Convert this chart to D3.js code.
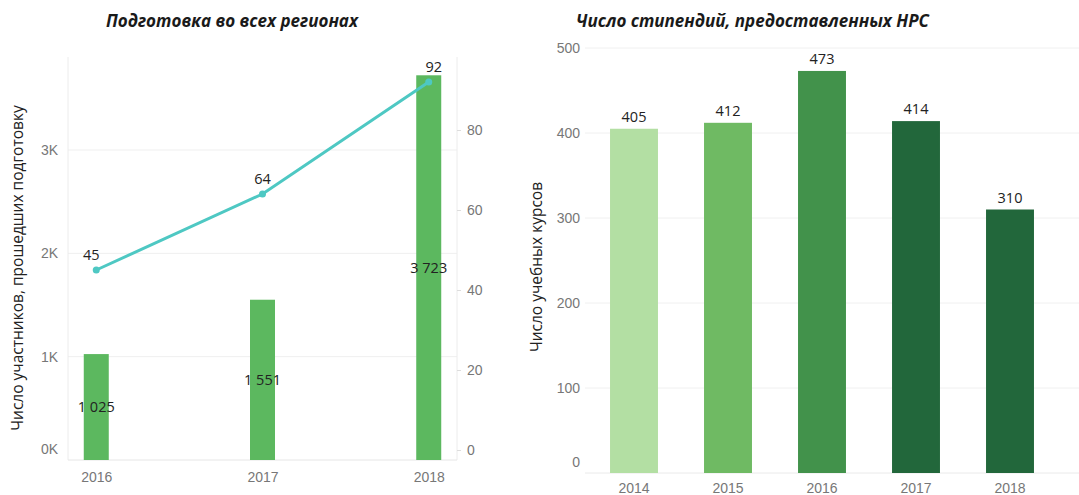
<!DOCTYPE html>
<html>
<head>
<meta charset="utf-8">
<script src="https://cdn.jsdelivr.net/npm/d3@7"></script>
<style>
  body { margin: 0; background: #fff; }
  svg { display: block; font-family: "Open Sans", sans-serif; }
  .tick text { fill: #777; font-size: 14px; }
  .title { font-weight: bold; font-style: italic; font-size: 17px; fill: #1a1a1a; }
  .axis-title { font-size: 15.5px; fill: #222; }
  .val { font-size: 14.5px; fill: #222; }
</style>
</head>
<body>
<svg id="chart" width="1079" height="495"></svg>
<script>
// Left chart data
const trainYears = ["2016", "2017", "2018"];
const participants = [1025, 1551, 3723];
const courses = [45, 64, 92];
const leftTicks = [0, 1000, 2000, 3000];
const rightTicks = [0, 20, 40, 60, 80];

// Right chart data
const grantYears = ["2014", "2015", "2016", "2017", "2018"];
const grants = [405, 412, 473, 414, 310];
const grantColors = ["#b3dfa3", "#6fba63", "#42924b", "#22673b", "#22673b"];
const grantTicks = [0, 100, 200, 300, 400, 500];

const svg = d3.select("#chart");
const fmtSpace = v => d3.format(",")(v).replace(/,/g, " ");

// ---------- Left chart ----------
const L = {left: 68, right: 457, top: 57, bottom: 460};
const left = svg.append("g");

const x1 = d3.scalePoint().domain(trainYears).range([L.left, L.right]).padding(0.17);
const yBar = d3.scaleLinear().domain([0, 3000]).range([L.bottom, 150]);
const yLine = d3.scaleLinear().domain([0, 80]).range([450, 130]);

left.append("text").attr("class", "title")
    .attr("x", 232).attr("y", 27).attr("text-anchor", "middle")
    .text("Подготовка во всех регионах");

// gridlines
left.selectAll(".grid").data(leftTicks.slice(1)).join("line")
    .attr("x1", L.left).attr("x2", L.right)
    .attr("y1", d => yBar(d)).attr("y2", d => yBar(d))
    .attr("stroke", "#efefef");
left.append("line").attr("x1", L.left).attr("x2", L.left)
    .attr("y1", L.top).attr("y2", L.bottom).attr("stroke", "#ececec");
left.append("line").attr("x1", L.right).attr("x2", L.right)
    .attr("y1", L.top).attr("y2", L.bottom).attr("stroke", "#ececec");
left.append("line").attr("x1", L.left).attr("x2", L.right)
    .attr("y1", L.bottom).attr("y2", L.bottom).attr("stroke", "#e6e6e6");

// left axis
const axL = left.append("g").attr("transform", `translate(${L.left - 4},0)`)
    .call(d3.axisLeft(yBar).tickValues(leftTicks).tickSize(0).tickPadding(6)
        .tickFormat(d => (d / 1000) + "K"));
axL.select(".domain").remove();
axL.selectAll(".tick").filter(d => d === 0).select("text").attr("dy", "-0.45em");

// right axis
const axR = left.append("g").attr("transform", `translate(${L.right},0)`)
    .call(d3.axisRight(yLine).tickValues(rightTicks).tickSize(4).tickPadding(6));
axR.select(".domain").remove();
axR.selectAll(".tick line").attr("stroke", "#ddd");

// x axis
const axX1 = left.append("g").attr("transform", `translate(0,${L.bottom})`)
    .call(d3.axisBottom(x1).tickSize(0).tickPadding(12));
axX1.select(".domain").remove();

left.append("text").attr("class", "axis-title")
    .attr("transform", `translate(23,268) rotate(-90)`).attr("text-anchor", "middle")
    .text("Число участников, прошедших подготовку");

// bars
const barW = 25;
left.selectAll(".bar").data(participants).join("rect")
    .attr("x", (d, i) => x1(trainYears[i]) - barW / 2)
    .attr("y", d => yBar(d))
    .attr("width", barW)
    .attr("height", d => L.bottom - yBar(d))
    .attr("fill", "#5cb85f");

left.selectAll(".barval").data(participants).join("text").attr("class", "val")
    .attr("x", (d, i) => x1(trainYears[i]))
    .attr("y", d => (yBar(d) + L.bottom) / 2)
    .attr("dy", "0.35em").attr("text-anchor", "middle")
    .text(d => fmtSpace(d));

// line
const line = d3.line().x((d, i) => x1(trainYears[i])).y(d => yLine(d));
left.append("path").datum(courses)
    .attr("d", line).attr("fill", "none")
    .attr("stroke", "#4ec8c3").attr("stroke-width", 3);
left.selectAll(".pt").data(courses).join("circle")
    .attr("cx", (d, i) => x1(trainYears[i])).attr("cy", d => yLine(d))
    .attr("r", 3.5).attr("fill", "#4ec8c3");
left.selectAll(".lineval").data(courses).join("text").attr("class", "val")
    .attr("x", (d, i) => x1(trainYears[i]) + (i === 0 ? -5 : i === 2 ? 5 : 0))
    .attr("y", d => yLine(d) - 10)
    .attr("text-anchor", "middle")
    .text(d => d);

// ---------- Right chart ----------
const R = {left: 587, right: 1057, top: 48, bottom: 473};
const right = svg.append("g");

const x2 = d3.scaleBand().domain(grantYears).range([R.left, R.right])
    .paddingInner(0.49).paddingOuter(0.245);
const y2 = d3.scaleLinear().domain([0, 500]).range([R.bottom, R.top]);

right.append("text").attr("class", "title")
    .attr("x", 576).attr("y", 27)
    .text("Число стипендий, предоставленных НРС");

right.selectAll(".grid").data(grantTicks.slice(1)).join("line")
    .attr("x1", R.left - 2).attr("x2", 1079)
    .attr("y1", d => y2(d)).attr("y2", d => y2(d))
    .attr("stroke", "#f0f0f0");
right.append("line").attr("x1", R.left - 2).attr("x2", 1079)
    .attr("y1", R.bottom).attr("y2", R.bottom).attr("stroke", "#eaeaea");

const axY2 = right.append("g").attr("transform", `translate(${R.left - 7},0)`)
    .call(d3.axisLeft(y2).tickValues(grantTicks).tickSize(0).tickPadding(0));
axY2.select(".domain").remove();
axY2.selectAll(".tick").filter(d => d === 0).select("text").attr("dy", "-0.45em");

const axX2 = right.append("g").attr("transform", `translate(0,${R.bottom})`)
    .call(d3.axisBottom(x2).tickSize(0).tickPadding(10));
axX2.select(".domain").remove();

right.append("text").attr("class", "axis-title")
    .attr("transform", `translate(542,267) rotate(-90)`).attr("text-anchor", "middle")
    .text("Число учебных курсов");

right.selectAll(".bar").data(grants).join("rect")
    .attr("x", (d, i) => x2(grantYears[i]))
    .attr("y", d => y2(d))
    .attr("width", x2.bandwidth())
    .attr("height", d => R.bottom - y2(d))
    .attr("fill", (d, i) => grantColors[i]);

right.selectAll(".barval").data(grants).join("text").attr("class", "val")
    .attr("x", (d, i) => x2(grantYears[i]) + x2.bandwidth() / 2)
    .attr("y", d => y2(d) - 7)
    .attr("text-anchor", "middle")
    .text(d => d);
</script>
</body>
</html>
